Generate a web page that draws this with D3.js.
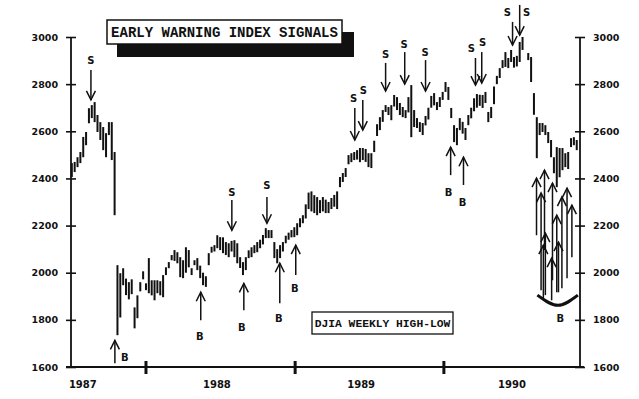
<!DOCTYPE html>
<html><head><meta charset="utf-8">
<script src="https://cdn.jsdelivr.net/npm/d3@7"></script>
<style>html,body{margin:0;padding:0;background:#fff;}svg{display:block;}</style>
</head><body>
<svg id="c" width="639" height="399"></svg>
<script>
// ---- DATA (weekly DJIA high-low, Fridays from 1987-07-03) ----
const firstWeek = "1987-07-03";
const weekHigh = [2465,2470,2490,2512,2576,2597,2698,2711,2724,2669,2639,2618,2592,2639,2639,2512,
2032,1998,2019,1975,1960,1972,1853,1904,1960,2006,1955,2062,1968,1968,1968,1964,1990,2023,2045,2075,
2096,2087,2066,2053,2108,2096,2019,2053,2062,2030,2000,1985,2083,2110,2117,2159,2151,2150,2130,2125,
2135,2138,2125,2066,2045,2066,2095,2108,2117,2130,2140,2160,2189,2181,2181,2130,2100,2117,2130,2157,
2170,2181,2193,2210,2231,2244,2290,2340,2345,2329,2321,2308,2321,2310,2300,2317,2330,2345,2406,2423,
2444,2499,2507,2512,2520,2529,2529,2525,2507,2507,2560,2630,2660,2690,2711,2703,2711,2754,2745,2720,
2703,2690,2745,2796,2690,2656,2639,2635,2665,2700,2750,2762,2724,2745,2767,2809,2788,2699,2626,2614,
2656,2640,2614,2669,2700,2740,2758,2755,2754,2767,2682,2703,2790,2835,2868,2902,2936,2911,2945,2915,
2920,2979,3000,null,2932,2915,2762,2660,2635,2635,2626,2597,2563,2490,2533,2529,2529,2507,2512,2571,
2575,2563];
const weekLow = [2406,2427,2448,2465,2490,2541,2634,2656,2639,2597,2563,2520,2490,2584,2478,2244,
1735,1810,1947,1905,1887,1909,1764,1807,1921,1972,1926,1913,1904,1883,1913,1904,1896,1990,2019,2053,
2050,2040,1981,1977,2000,2023,1990,2032,2011,1977,1947,1940,2032,2085,2090,2104,2096,2083,2075,2066,
2090,2066,2040,2020,1990,2011,2062,2066,2083,2087,2104,2120,2147,2147,2147,2062,2040,2062,2090,2125,
2140,2150,2151,2159,2193,2210,2230,2270,2260,2253,2244,2253,2260,2253,2253,2270,2280,2270,2363,2385,
2406,2460,2469,2478,2480,2469,2478,2470,2448,2444,2512,2580,2605,2640,2682,2669,2647,2705,2690,2669,
2660,2656,2680,2575,2618,2614,2597,2584,2625,2650,2700,2710,2690,2703,2733,2767,2733,2656,2554,2541,
2605,2590,2563,2626,2655,2685,2700,2708,2699,2720,2639,2656,2715,2800,2826,2868,2873,2868,2894,2870,
2875,2894,2945,null,2902,2809,2670,2486,2584,2597,2584,2550,2490,2422,2363,2405,2435,2448,2440,2533,
2541,2520];
const yTicks = [1600,1800,2000,2200,2400,2600,2800,3000];
const yearBreaks = ["1988-01-01","1989-01-01","1990-01-01"];
const yearLabels = ["1987","1988","1989","1990"];
const yearLabelDates = ["1987-07-30","1988-06-23","1989-06-12","1990-06-17"];

// sell signals (week offset, arrow tip value, arrow tail value, label week, label value)
const sellWeek  = [6.7,56.1,68.4,99.2,102,110,116.7,124,141.5,143.7,154.5,157];
const sellTip   = [2733,2180,2210,2563,2605,2771,2800,2771,2796,2805,2966,3008];
const sellTail  = [2860,2308,2321,2699,2733,2890,2936,2902,2911,2936,3064,3136];
const sellLblWk = [6.7,56.1,68.4,98.8,102.2,110,116.5,123.8,140.1,144,152.7,159.4];
const sellLblV  = [2902,2342,2372,2741,2775,2924,2970,2936,2953,2975,3106,3106];
// buy signals
const buyWeek  = [15.1,45.2,60.3,72.9,78.5,132.8,137.3];
const buyTip   = [1713,1917,1955,2040,2117,2533,2490];
const buyTail  = [1616,1798,1841,1870,1990,2414,2372];
const buyLblWk = [18.6,44.9,59.6,72.6,78.2,132.1,137.0];
const buyLblV  = [1641,1730,1768,1807,1934,2342,2299];
// cluster of buy signals, autumn 1990
const clusterWeek = [162.9,164.5,165.7,168.5,170,171.8,173.6,175.3,166,170.6,165.3,168.2];
const clusterTip  = [2401,2338,2435,2380,2244,2321,2359,2287,2168,2130,2117,2062];
const clusterTail = [2159,1926,2096,1968,1917,1934,1977,2066,1905,1917,1883,1883];
const bracketWeek = [163.2,170.4,177.4];
const bracketVal  = [1905,1862,1905];
const clusterLbl  = {week:171.2, value:1807};

const title = "EARLY WARNING INDEX SIGNALS";
const subtitle = "DJIA WEEKLY HIGH-LOW";

// ---- CHART ----
const svg = d3.select("#c");
const start = d3.timeParse("%Y-%m-%d")(firstWeek);
const parse = d3.timeParse("%Y-%m-%d");
const wd = w => new Date(start.getTime() + w*7*864e5);
const x = d3.scaleTime().domain([new Date(1987,6,1), new Date(1990,11,1)]).range([71,580]);
const y = d3.scaleLinear().domain([1600,3000]).range([367,37]);
const ink = "#111";

// bars
const bars = weekHigh.map((h,i)=>({d:wd(i),h,l:weekLow[i]})).filter(b=>b.h!=null);
svg.append("g").selectAll("rect").data(bars).join("rect")
  .attr("x",d=>x(d.d)-1).attr("width",2)
  .attr("y",d=>y(d.h)).attr("height",d=>Math.max(2,y(d.l)-y(d.h)))
  .attr("fill",ink);

// axes
function styleAxis(g, inner){
  g.select(".domain").remove();
  g.selectAll(".tick line").attr("stroke",ink).attr("stroke-width",1.6)
    .attr("x1",inner).attr("x2",-inner);
  g.selectAll(".tick text").attr("font-family","DejaVu Sans").attr("font-weight","bold")
    .attr("font-size","9.5px").attr("fill",ink);
}
const yl = svg.append("g").attr("transform","translate(71,0)")
  .call(d3.axisLeft(y).tickValues(yTicks).tickFormat(d3.format("d")).tickSize(5).tickPadding(8));
styleAxis(yl, 5);
const yr = svg.append("g").attr("transform","translate(580,0)")
  .call(d3.axisRight(y).tickValues(yTicks).tickFormat(d3.format("d")).tickSize(5).tickPadding(8));
styleAxis(yr, -5);
svg.append("line").attr("x1",71).attr("x2",71).attr("y1",y(3000)).attr("y2",y(1600)).attr("stroke",ink).attr("stroke-width",1.8);
svg.append("line").attr("x1",580).attr("x2",580).attr("y1",y(3000)).attr("y2",y(1600)).attr("stroke",ink).attr("stroke-width",1.8);
svg.append("line").attr("x1",66).attr("x2",584).attr("y1",y(1600)).attr("y2",y(1600)).attr("stroke",ink).attr("stroke-width",1.8);
svg.append("g").selectAll("line").data(yearBreaks).join("line")
  .attr("x1",d=>x(parse(d))).attr("x2",d=>x(parse(d)))
  .attr("y1",y(1600)-6).attr("y2",y(1600)+7).attr("stroke",ink).attr("stroke-width",3);
svg.append("g").selectAll("text").data(yearLabels).join("text")
  .attr("x",(d,i)=>x(parse(yearLabelDates[i]))).attr("y",388)
  .attr("text-anchor","middle").attr("font-family","DejaVu Sans").attr("font-weight","bold")
  .attr("font-size","10px").attr("fill",ink).text(d=>d);

// arrows
function arrow(g, xx, yTip, yTail, up){
  g.append("line").attr("x1",xx).attr("x2",xx).attr("y1",yTail).attr("y2",yTip)
    .attr("stroke",ink).attr("stroke-width",1.5);
  const s = up ? 1 : -1;
  g.append("path").attr("d",`M${xx-4.5},${yTip+s*9}L${xx},${yTip}L${xx+4.5},${yTip+s*9}`)
    .attr("fill","none").attr("stroke",ink).attr("stroke-width",1.5);
}
function label(g, xx, yy, t){
  g.append("text").attr("x",xx).attr("y",yy).attr("dy","0.35em").attr("text-anchor","middle")
    .attr("font-family","DejaVu Sans").attr("font-weight","bold").attr("font-size","10px")
    .attr("fill",ink).text(t);
}
const ga = svg.append("g");
sellWeek.forEach((w,i)=>{
  arrow(ga, x(wd(w)), y(sellTip[i]), y(sellTail[i]), false);
  label(ga, x(wd(sellLblWk[i])), y(sellLblV[i]), "S");
});
buyWeek.forEach((w,i)=>{
  arrow(ga, x(wd(w)), y(buyTip[i]), y(buyTail[i]), true);
  label(ga, x(wd(buyLblWk[i])), y(buyLblV[i]), "B");
});
clusterWeek.forEach((w,i)=>{
  arrow(ga, x(wd(w)), y(clusterTip[i]), y(clusterTail[i]), true);
});
const bp = bracketWeek.map((w,i)=>[x(wd(w)), y(bracketVal[i])]);
ga.append("path").attr("d",d3.line().curve(d3.curveNatural)(bp))
  .attr("fill","none").attr("stroke",ink).attr("stroke-width",3);
label(ga, x(wd(clusterLbl.week)), y(clusterLbl.value), "B");

// title box with shadow
svg.append("rect").attr("x",117).attr("y",32).attr("width",237).attr("height",25).attr("fill",ink);
svg.append("rect").attr("x",107).attr("y",20).attr("width",235).attr("height",24)
  .attr("fill","#fff").attr("stroke",ink).attr("stroke-width",1.5);
svg.append("text").attr("x",224.5).attr("y",37).attr("text-anchor","middle")
  .attr("font-family","Liberation Mono").attr("font-weight","bold").attr("font-size","14px")
  .attr("fill",ink).text(title);
// subtitle box
svg.append("rect").attr("x",312).attr("y",312).attr("width",141).attr("height",22)
  .attr("fill","#fff").attr("stroke",ink).attr("stroke-width",1.3);
svg.append("text").attr("x",382.5).attr("y",327).attr("text-anchor","middle")
  .attr("font-family","Liberation Mono").attr("font-weight","bold").attr("font-size","11.3px")
  .attr("fill",ink).text(subtitle);
</script>
</body></html>
